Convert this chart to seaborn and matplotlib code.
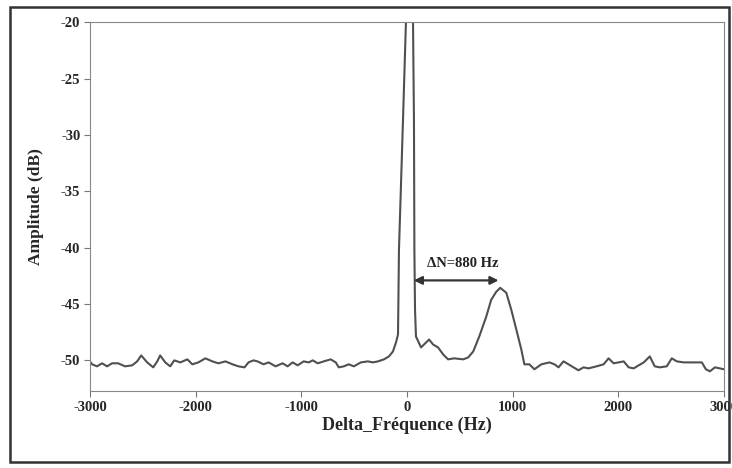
import pandas as pd
import matplotlib
matplotlib.use('Agg')
import matplotlib.pyplot as plt
import seaborn as sns
from matplotlib.patches import Rectangle

# values
delta_freq = [-3000, -2981, -2934, -2886, -2839, -2791, -2734, -2668, -2601, -2554, -2516,
              -2459, -2402, -2364, -2336, -2288, -2241, -2203, -2146, -2079, -2032, -1975,
              -1908, -1842, -1785, -1718, -1652, -1595, -1538, -1500, -1453, -1415, -1358,
              -1310, -1244, -1177, -1130, -1082, -1035, -978, -930, -892, -845, -788, -722,
              -674, -646, -598, -551, -503, -437, -370, -323, -275, -218, -171, -133, -104,
              -85, -76, -38, -10, 25, 57, 66, 70, 76, 85, 133, 161, 209, 247, 294, 342, 389,
              446, 532, 579, 627, 684, 750, 797, 845, 883, 940, 987, 1035, 1082, 1111, 1158,
              1206, 1272, 1348, 1396, 1434, 1481, 1529, 1576, 1623, 1671, 1718, 1794, 1861,
              1908, 1956, 2003, 2051, 2098, 2146, 2193, 2241, 2298, 2345, 2392, 2459, 2506,
              2554, 2620, 2715, 2791, 2829, 2867, 2915, 3000]
amplitude = [-50.1, -50.35, -50.53, -50.26, -50.53, -50.26, -50.26, -50.53, -50.44, -50.09, -49.56,
             -50.18, -50.62, -50.09, -49.56, -50.18, -50.53, -50.0, -50.18, -49.91, -50.35, -50.18,
             -49.82, -50.09, -50.26, -50.09, -50.35, -50.53, -50.62, -50.18, -50.0, -50.09, -50.35,
             -50.18, -50.53, -50.26, -50.53, -50.18, -50.44, -50.09, -50.18, -50.0, -50.26, -50.09, -49.91,
             -50.18, -50.62, -50.53, -50.35, -50.53, -50.18, -50.09, -50.18, -50.09, -49.91, -49.65, -49.21, -48.41,
             -47.7, -40.2, -28.7, -20.0, -14.0, -20.0, -28.7, -40.2, -45.5, -47.88, -48.85, -48.59, -48.15, -48.59, -48.85, -49.47, -49.91,
             -49.82, -49.91, -49.74, -49.21, -47.88, -46.12, -44.62, -43.91, -43.56, -44.0, -45.5, -47.27, -49.03, -50.35, -50.35,
             -50.79, -50.35, -50.18, -50.35, -50.62, -50.09, -50.35, -50.62, -50.88, -50.62, -50.71, -50.53, -50.35,
             -49.82, -50.26, -50.18, -50.09, -50.62, -50.71, -50.44, -50.18, -49.65, -50.53, -50.62, -50.53, -49.82,
             -50.09, -50.18, -50.18, -50.18, -50.79, -50.97, -50.62, -50.79]

x_ticks = [-3000, -2000, -1000, 0, 1000, 2000, 3000]
y_ticks = [-20, -25, -30, -35, -40, -45, -50]
arrow_from, arrow_to, arrow_level = 38, 893, -42.9
annotation = 'ΔN=880 Hz'

spectrum = pd.DataFrame({'Delta_Fréquence (Hz)': delta_freq, 'Amplitude (dB)': amplitude})

sns.set_style('ticks')
plt.rcParams['font.family'] = ['Liberation Serif', 'DejaVu Serif']
plt.rcParams['font.weight'] = 'bold'

fig = plt.figure(figsize=(7.32, 4.68), dpi=100)
ax = fig.add_axes([0.123, 0.165, 0.866, 0.787])

sns.lineplot(data=spectrum, x='Delta_Fréquence (Hz)', y='Amplitude (dB)', ax=ax,
             color='#505050', linewidth=1.5, sort=False)

ax.set_xlim(-3000, 3000)
ax.set_ylim(-52.7, -20)
ax.set_xticks(x_ticks)
ax.set_yticks(y_ticks)
ax.set_xticklabels([str(t) for t in x_ticks], fontsize=10.5, fontweight='bold')
ax.set_yticklabels([str(t) for t in y_ticks], fontsize=10.5, fontweight='bold')
ax.tick_params(direction='out', length=4, width=0.8, color='#777777', pad=3)
for side in ['left', 'right', 'top', 'bottom']:
    ax.spines[side].set_visible(True)
    ax.spines[side].set_color('#888888')
    ax.spines[side].set_linewidth(0.8)

ax.set_xlabel('Delta_Fréquence (Hz)', fontsize=13, fontweight='bold', labelpad=2)
ax.set_ylabel('Amplitude (dB)', fontsize=12.5, fontweight='bold', labelpad=12)

ax.annotate('', xy=(arrow_from, arrow_level), xytext=(arrow_to, arrow_level),
            arrowprops=dict(arrowstyle='<|-|>', color='#333333', lw=1.6, mutation_scale=12))
ax.text((arrow_from + arrow_to) / 2 + 60, arrow_level + 1.5, annotation,
        ha='center', va='center', fontsize=10.5, fontweight='bold', color='#222222')

fig.patches.append(Rectangle((0.014, 0.013), 0.982, 0.972, transform=fig.transFigure,
                             fill=False, edgecolor='#333333', linewidth=1.8))

plt.savefig('out.png', dpi=100)
